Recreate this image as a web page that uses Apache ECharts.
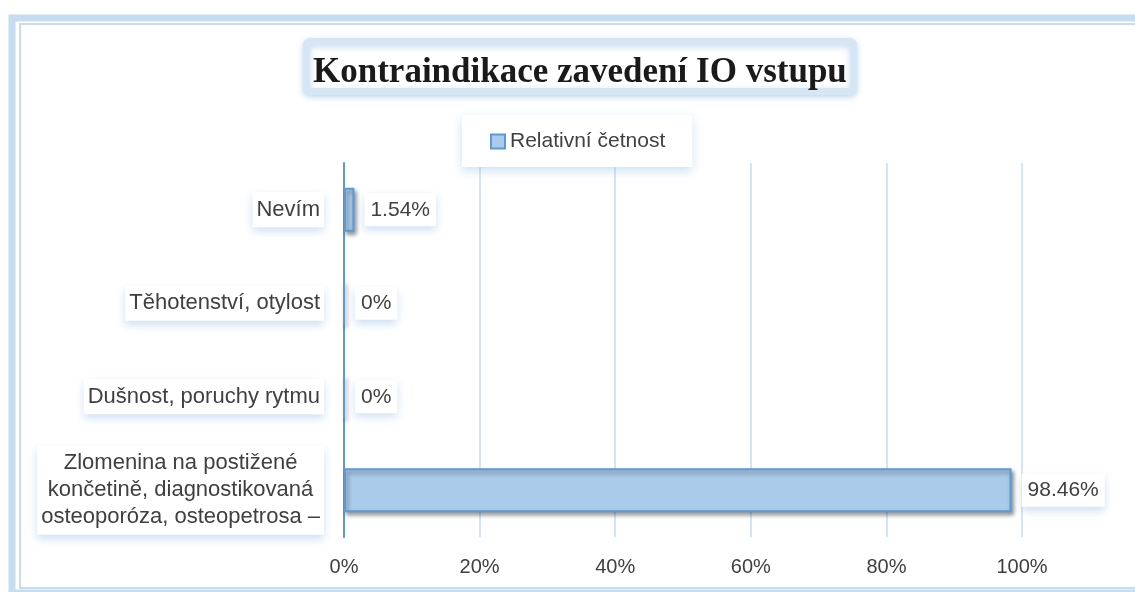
<!DOCTYPE html>
<html>
<head>
<meta charset="utf-8">
<script src="https://cdn.jsdelivr.net/npm/echarts@6/dist/echarts.min.js"></script>
<style>
  html, body { margin: 0; padding: 0; background: #fff; }
  #chart { width: 1135px; height: 592px; }
</style>
</head>
<body>
<div id="chart"></div>
<script>
// categories top to bottom
var categories = [
  'Nevím',
  'Těhotenství, otylost',
  'Dušnost, poruchy rytmu',
  'Zlomenina na postižené\nkončetině, diagnostikovaná\nosteoporóza, osteopetrosa –'
];
var values = [1.54, 0, 0, 98.46];
var seriesName = 'Relativní četnost';
var xTicks = [0, 20, 40, 60, 80, 100];

var font = 'Liberation Sans';
var textColor = '#404040';
var frameBlue = '#c6ddf0';

var myChart = echarts.init(document.getElementById('chart'));

myChart.setOption({
  animation: false,
  title: {
    text: 'Kontraindikace zavedení IO vstupu',
    left: 306,
    top: 41,
    padding: [14, 7, 2, 7],
    backgroundColor: '#fff',
    borderColor: '#d6e6f5',
    borderWidth: 7,
    borderRadius: 3,
    shadowBlur: 6,
    shadowColor: 'rgba(91,155,213,0.35)',
    shadowOffsetY: 2,
    textStyle: {
      fontFamily: 'Liberation Serif',
      fontWeight: 'bold',
      fontSize: 35,
      color: '#1a1a1a'
    }
  },
  legend: {
    data: [seriesName],
    left: 462,
    top: 115,
    padding: [16, 27, 15, 28],
    backgroundColor: '#fff',
    shadowBlur: 10,
    shadowColor: 'rgba(91,155,213,0.3)',
    shadowOffsetY: 4,
    icon: 'rect',
    itemWidth: 14,
    itemHeight: 14,
    textStyle: { fontFamily: font, fontSize: 21, color: textColor }
  },
  graphic: [
    {
      type: 'rect',
      shape: { x: 12, y: 18, width: 1140, height: 575 },
      style: { fill: 'none', stroke: frameBlue, lineWidth: 7 },
      silent: true
    },
    {
      type: 'rect',
      shape: { x: 20, y: 24, width: 1130, height: 564 },
      style: { fill: 'none', stroke: frameBlue, lineWidth: 2 },
      silent: true
    }
  ],
  grid: {
    left: 344,
    right: 113,
    top: 163,
    bottom: 55,
    containLabel: false
  },
  xAxis: {
    type: 'value',
    min: xTicks[0],
    max: xTicks[xTicks.length - 1],
    interval: xTicks[1] - xTicks[0],
    axisLine: { show: false },
    axisTick: { show: false },
    splitLine: { lineStyle: { color: '#c9ddf0', width: 1.5 } },
    axisLabel: {
      formatter: '{value}%',
      margin: 20,
      fontFamily: font,
      fontSize: 20,
      color: textColor
    }
  },
  yAxis: {
    type: 'category',
    inverse: true,
    data: categories,
    axisLine: { lineStyle: { color: '#5b9bd5', width: 2 } },
    axisTick: { show: false },
    axisLabel: {
      margin: 20,
      fontFamily: font,
      fontSize: 22,
      color: textColor,
      backgroundColor: '#fff',
      padding: [4, 4],
      shadowBlur: 8,
      shadowColor: 'rgba(91,155,213,0.3)',
      shadowOffsetY: 4,
      lineHeight: 27,
      formatter: function (v) {
        return v.split('\n').map(function (s) { return '{c|' + s + '}'; }).join('\n');
      },
      rich: {
        c: {
          align: 'center',
          fontFamily: font,
          fontSize: 22,
          color: textColor,
          lineHeight: 27
        }
      }
    }
  },
  series: [{
    name: seriesName,
    type: 'bar',
    data: values,
    barWidth: 44,
    itemStyle: {
      color: '#abcbea',
      borderColor: '#5b9bd5',
      borderWidth: 2,
      shadowBlur: 4,
      shadowColor: 'rgba(0,0,0,0.4)',
      shadowOffsetX: 2,
      shadowOffsetY: 3
    },
    label: {
      show: true,
      position: 'right',
      distance: 10,
      formatter: function (p) { return p.value + '%'; },
      fontFamily: font,
      fontSize: 21,
      color: textColor,
      backgroundColor: '#fff',
      padding: [6, 6],
      shadowBlur: 8,
      shadowColor: 'rgba(91,155,213,0.3)',
      shadowOffsetY: 4
    }
  }]
});
</script>
</body>
</html>
